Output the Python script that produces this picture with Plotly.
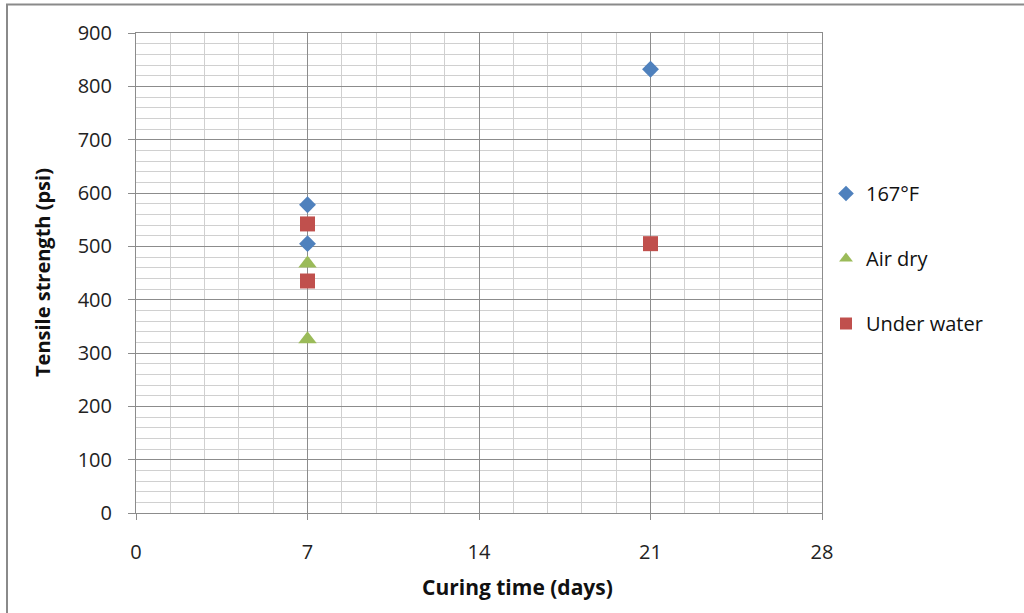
import plotly.graph_objects as go

# Data
f167_x = [7, 7, 21]
f167_y = [578, 505, 832]
air_x = [7, 7]
air_y = [468, 326]
water_x = [7, 7, 21]
water_y = [542, 435, 505]

x_ticks = [0, 7, 14, 21, 28]
y_ticks = [0, 100, 200, 300, 400, 500, 600, 700, 800, 900]

L, R, T, B = 136, 202, 33, 100
W, H = 1024, 613
pw, ph = W - L - R, H - T - B

def px2x(px):
    return (px - L) / pw

def py2y(py):
    return (H - B - py) / ph

FONT = "Open Sans"

fig = go.Figure()
fig.add_trace(go.Scatter(x=f167_x, y=f167_y, mode="markers", name="167°F",
                         legendgroup="a",
                         marker=dict(symbol="diamond", size=13, color="#4F81BD")))
fig.add_trace(go.Scatter(x=air_x, y=air_y, mode="markers", name="Air dry",
                         legendgroup="b",
                         marker=dict(symbol="triangle-up", size=16, color="#9BBB59")))
fig.add_trace(go.Scatter(x=water_x, y=water_y, mode="markers", name="Under water",
                         legendgroup="c",
                         marker=dict(symbol="square", size=15, color="#C0504D")))

fig.update_layout(
    width=W, height=H,
    margin=dict(l=L, r=R, t=T, b=B),
    paper_bgcolor="white", plot_bgcolor="white",
    font=dict(family=FONT, size=20, color="#222222"),
    showlegend=True,
    legend=dict(x=px2x(826), y=py2y(174), xanchor="left", yanchor="top",
                font=dict(family=FONT, size=20, color="#111111"),
                tracegroupgap=36, itemsizing="constant"),
    xaxis=dict(range=[0, 28], tickvals=x_ticks, ticktext=[str(v) for v in x_ticks],
               showgrid=True, gridcolor="#8c8c8c", gridwidth=1,
               minor=dict(dtick=1.4, tick0=0, showgrid=True, gridcolor="#d0d0d0", gridwidth=1),
               showline=True, linecolor="#8c8c8c", linewidth=1, mirror=True,
               ticks="outside", ticklen=6, tickcolor="#8c8c8c",
               ticklabelstandoff=15, zeroline=False,
               tickfont=dict(family=FONT, size=20, color="#222222")),
    yaxis=dict(range=[0, 900], tickvals=y_ticks, ticktext=[str(v) for v in y_ticks],
               showgrid=True, gridcolor="#8c8c8c", gridwidth=1,
               minor=dict(dtick=20, tick0=0, showgrid=True, gridcolor="#d0d0d0", gridwidth=1),
               showline=True, linecolor="#8c8c8c", linewidth=1, mirror=True,
               ticks="outside", ticklen=7, tickcolor="#8c8c8c",
               ticklabelstandoff=12, zeroline=False,
               tickfont=dict(family=FONT, size=20, color="#222222")),
    annotations=[
        dict(text="<b>Tensile strength (psi)</b>", xref="paper", yref="paper",
             x=px2x(42), y=py2y(273), textangle=-90, showarrow=False,
             xanchor="center", yanchor="middle",
             font=dict(family=FONT, size=20, color="#111111")),
        dict(text="<b>Curing time (days)</b>", xref="paper", yref="paper",
             x=px2x(517), y=py2y(587), showarrow=False,
             xanchor="center", yanchor="middle",
             font=dict(family=FONT, size=21, color="#111111")),
    ],
    shapes=[
        dict(type="line", xref="paper", yref="paper",
             x0=px2x(6), x1=px2x(1024), y0=py2y(4.5), y1=py2y(4.5),
             line=dict(color="#8a8a8a", width=2)),
        dict(type="line", xref="paper", yref="paper",
             x0=px2x(7), x1=px2x(7), y0=py2y(4.5), y1=py2y(613),
             line=dict(color="#8a8a8a", width=2)),
    ],
)

fig.write_html("out.html")
